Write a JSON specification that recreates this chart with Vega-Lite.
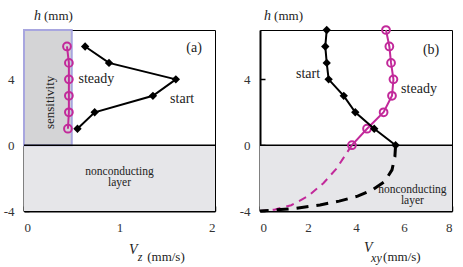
{
  "$schema": "https://vega.github.io/schema/vega-lite/v6.json",
  "autosize": {"type": "pad"},
  "padding": {"left": 2, "top": 8, "right": 2, "bottom": 2},
  "config": {
    "font": "Liberation Serif",
    "view": {"stroke": "black", "strokeWidth": 1},
    "axis": {"domainColor": "black", "domainWidth": 2, "tickColor": "black", "tickWidth": 1.5, "tickSize": -5, "labelFont": "Liberation Serif", "labelFontSize": 13, "labelColor": "#333", "grid": false, "title": null, "labelPadding": 15},
    "text": {"font": "Liberation Serif", "color": "#222"}
  },
  "spacing": 45,
  "bounds": "flush",
  "hconcat": [
    {
      "width": 191,
      "height": 181,
      "layer": [
        {
          "data": {"values": [{}]},
          "mark": {"type": "rect", "fill": "#e6e6e9"},
          "encoding": {
            "x": {"datum": 0, "type": "quantitative", "scale": {"domain": [0, 2], "nice": false, "zero": false}, "axis": {"values": [0, 0.5, 1, 1.5, 2], "labelExpr": "datum.value % 1 == 0 ? '' + datum.value : ''"}},
            "x2": {"datum": 2},
            "y": {"datum": -4, "type": "quantitative", "scale": {"domain": [-4, 7], "nice": false, "zero": false}, "axis": {"values": [-4, -3, -2, -1, 0, 1, 2, 3, 4, 5, 6, 7], "labelExpr": "datum.value % 4 == 0 ? '' + datum.value : ''"}},
            "y2": {"datum": 0}
          }
        },
        {
          "data": {"values": [{}]},
          "mark": {"type": "rect", "fill": "#d4d4d6", "stroke": "#a8a6df", "strokeWidth": 2},
          "encoding": {
            "x": {"datum": 0, "type": "quantitative"},
            "x2": {"datum": 0.5},
            "y": {"datum": 0, "type": "quantitative"},
            "y2": {"datum": 7}
          }
        },
        {
          "data": {"values": [{}]},
          "mark": {"type": "rule", "color": "black", "strokeWidth": 1.5},
          "encoding": {"y": {"datum": 0, "type": "quantitative"}}
        },
        {
          "data": {"values": [
            {"v": 0.46, "h": 1}, {"v": 0.47, "h": 2}, {"v": 0.47, "h": 3},
            {"v": 0.47, "h": 4}, {"v": 0.47, "h": 5}, {"v": 0.45, "h": 6}
          ]},
          "mark": {"type": "line", "color": "#c2299a", "strokeWidth": 2, "point": {"shape": "circle", "size": 60, "filled": false, "stroke": "#c2299a", "strokeWidth": 2}},
          "encoding": {
            "x": {"field": "v", "type": "quantitative"},
            "y": {"field": "h", "type": "quantitative"},
            "order": {"field": "h"}
          }
        },
        {
          "data": {"values": [
            {"v": 0.56, "h": 1}, {"v": 0.74, "h": 2}, {"v": 1.35, "h": 3},
            {"v": 1.59, "h": 4}, {"v": 0.89, "h": 5}, {"v": 0.64, "h": 6}
          ]},
          "mark": {"type": "line", "color": "black", "strokeWidth": 2, "point": {"shape": "diamond", "size": 70, "filled": true, "color": "black"}},
          "encoding": {
            "x": {"field": "v", "type": "quantitative"},
            "y": {"field": "h", "type": "quantitative"},
            "order": {"field": "h"}
          }
        },
        {
          "data": {"values": [
            {"label": "steady", "v": 0.57, "h": 4},
            {"label": "start", "v": 1.53, "h": 2.8},
            {"label": "(a)", "v": 1.7, "h": 5.9}
          ]},
          "mark": {"type": "text", "align": "left", "baseline": "middle", "fontSize": 14, "font": "Liberation Serif"},
          "encoding": {
            "x": {"field": "v", "type": "quantitative"},
            "y": {"field": "h", "type": "quantitative"},
            "text": {"field": "label"}
          }
        },
        {
          "data": {"values": [
            {"label": "nonconducting", "v": 1.0, "h": -1.6},
            {"label": "layer", "v": 1.0, "h": -2.3}
          ]},
          "mark": {"type": "text", "align": "center", "baseline": "middle", "fontSize": 11.5, "font": "Liberation Serif"},
          "encoding": {
            "x": {"field": "v", "type": "quantitative"},
            "y": {"field": "h", "type": "quantitative"},
            "text": {"field": "label"}
          }
        },
        {
          "data": {"values": [{"label": "sensitivity", "v": 0.27, "h": 2.6}]},
          "mark": {"type": "text", "align": "center", "baseline": "middle", "fontSize": 13, "angle": 270, "font": "Liberation Serif"},
          "encoding": {
            "x": {"field": "v", "type": "quantitative"},
            "y": {"field": "h", "type": "quantitative"},
            "text": {"field": "label"}
          }
        },
        {
          "data": {"values": [{}]},
          "mark": {"type": "text", "text": "h", "fontStyle": "italic", "align": "left", "baseline": "middle", "fontSize": 14},
          "encoding": {"x": {"datum": 0.105, "type": "quantitative"}, "y": {"datum": 7.88, "type": "quantitative"}}
        },
        {
          "data": {"values": [{}]},
          "mark": {"type": "text", "text": "(mm)", "align": "left", "baseline": "middle", "fontSize": 13, "dx": 10},
          "encoding": {"x": {"datum": 0.105, "type": "quantitative"}, "y": {"datum": 7.88, "type": "quantitative"}}
        },
        {
          "data": {"values": [{}]},
          "mark": {"type": "text", "text": "V", "fontStyle": "italic", "align": "left", "baseline": "middle", "fontSize": 14},
          "encoding": {"x": {"datum": 1.1, "type": "quantitative"}, "y": {"datum": -6.4, "type": "quantitative"}}
        },
        {
          "data": {"values": [{}]},
          "mark": {"type": "text", "text": "z", "fontStyle": "italic", "align": "left", "baseline": "middle", "fontSize": 12, "dx": 2},
          "encoding": {"x": {"datum": 1.17, "type": "quantitative"}, "y": {"datum": -6.8, "type": "quantitative"}}
        },
        {
          "data": {"values": [{}]},
          "mark": {"type": "text", "text": "(mm/s)", "align": "left", "baseline": "middle", "fontSize": 13},
          "encoding": {"x": {"datum": 1.29, "type": "quantitative"}, "y": {"datum": -6.8, "type": "quantitative"}}
        }
      ]
    },
    {
      "width": 192,
      "height": 181,
      "layer": [
        {
          "data": {"values": [{}]},
          "mark": {"type": "rect", "fill": "#e6e6e9"},
          "encoding": {
            "x": {"datum": 0, "type": "quantitative", "scale": {"domain": [0, 8], "nice": false, "zero": false}, "axis": {"values": [0, 2, 4, 6, 8]}},
            "x2": {"datum": 8},
            "y": {"datum": -4, "type": "quantitative", "scale": {"domain": [-4, 7], "nice": false, "zero": false}, "axis": {"values": [-4, -3, -2, -1, 0, 1, 2, 3, 4, 5, 6, 7], "labelExpr": "datum.value % 4 == 0 ? '' + datum.value : ''"}},
            "y2": {"datum": 0}
          }
        },
        {
          "data": {"values": [{}]},
          "mark": {"type": "rule", "color": "black", "strokeWidth": 1.5},
          "encoding": {"y": {"datum": 0, "type": "quantitative"}}
        },
        {
          "data": {"values": [
            {"v": 3.83, "h": 0}, {"v": 3.6, "h": -0.5}, {"v": 3.2, "h": -1.4}, {"v": 2.65, "h": -2.3},
            {"v": 2.0, "h": -3.1}, {"v": 1.3, "h": -3.65}, {"v": 0.6, "h": -3.92}, {"v": 0, "h": -4}
          ]},
          "mark": {"type": "line", "color": "#c2299a", "strokeWidth": 2, "strokeDash": [8, 6]},
          "encoding": {
            "x": {"field": "v", "type": "quantitative"},
            "y": {"field": "h", "type": "quantitative"},
            "order": {"field": "h", "sort": "descending"}
          }
        },
        {
          "data": {"values": [
            {"v": 5.65, "h": 0}, {"v": 5.62, "h": -0.7}, {"v": 5.5, "h": -1.5}, {"v": 5.2, "h": -2.2},
            {"v": 4.7, "h": -2.7}, {"v": 4.07, "h": -3.1}, {"v": 3.3, "h": -3.4}, {"v": 2.5, "h": -3.63},
            {"v": 1.5, "h": -3.84}, {"v": 0.5, "h": -3.95}, {"v": 0, "h": -4}
          ]},
          "mark": {"type": "line", "color": "black", "strokeWidth": 3, "strokeDash": [12, 8]},
          "encoding": {
            "x": {"field": "v", "type": "quantitative"},
            "y": {"field": "h", "type": "quantitative"},
            "order": {"field": "h", "sort": "descending"}
          }
        },
        {
          "data": {"values": [
            {"v": 3.83, "h": 0}, {"v": 4.46, "h": 1}, {"v": 5.15, "h": 2}, {"v": 5.5, "h": 3},
            {"v": 5.56, "h": 4}, {"v": 5.46, "h": 5}, {"v": 5.39, "h": 6}, {"v": 5.25, "h": 7}
          ]},
          "mark": {"type": "line", "color": "#c2299a", "strokeWidth": 2, "clip": false, "point": {"shape": "circle", "size": 60, "filled": false, "stroke": "#c2299a", "strokeWidth": 2}},
          "encoding": {
            "x": {"field": "v", "type": "quantitative"},
            "y": {"field": "h", "type": "quantitative"},
            "order": {"field": "h"}
          }
        },
        {
          "data": {"values": [
            {"v": 5.65, "h": 0}, {"v": 4.76, "h": 1}, {"v": 3.97, "h": 2}, {"v": 3.49, "h": 3},
            {"v": 2.86, "h": 4}, {"v": 2.78, "h": 5}, {"v": 2.72, "h": 6}, {"v": 2.78, "h": 7}
          ]},
          "mark": {"type": "line", "color": "black", "strokeWidth": 2, "point": {"shape": "diamond", "size": 70, "filled": true, "color": "black"}},
          "encoding": {
            "x": {"field": "v", "type": "quantitative"},
            "y": {"field": "h", "type": "quantitative"},
            "order": {"field": "h"}
          }
        },
        {
          "data": {"values": [
            {"label": "start", "v": 1.5, "h": 4.3},
            {"label": "steady", "v": 5.88, "h": 3.4},
            {"label": "(b)", "v": 6.79, "h": 5.8}
          ]},
          "mark": {"type": "text", "align": "left", "baseline": "middle", "fontSize": 14, "font": "Liberation Serif"},
          "encoding": {
            "x": {"field": "v", "type": "quantitative"},
            "y": {"field": "h", "type": "quantitative"},
            "text": {"field": "label"}
          }
        },
        {
          "data": {"values": [
            {"label": "nonconducting", "v": 6.35, "h": -2.7},
            {"label": "layer", "v": 6.35, "h": -3.4}
          ]},
          "mark": {"type": "text", "align": "center", "baseline": "middle", "fontSize": 11.5, "font": "Liberation Serif"},
          "encoding": {
            "x": {"field": "v", "type": "quantitative"},
            "y": {"field": "h", "type": "quantitative"},
            "text": {"field": "label"}
          }
        },
        {
          "data": {"values": [{}]},
          "mark": {"type": "text", "text": "h", "fontStyle": "italic", "align": "left", "baseline": "middle", "fontSize": 14},
          "encoding": {"x": {"datum": 0.17, "type": "quantitative"}, "y": {"datum": 7.88, "type": "quantitative"}}
        },
        {
          "data": {"values": [{}]},
          "mark": {"type": "text", "text": "(mm)", "align": "left", "baseline": "middle", "fontSize": 13, "dx": 10},
          "encoding": {"x": {"datum": 0.17, "type": "quantitative"}, "y": {"datum": 7.88, "type": "quantitative"}}
        },
        {
          "data": {"values": [{}]},
          "mark": {"type": "text", "text": "V", "fontStyle": "italic", "align": "left", "baseline": "middle", "fontSize": 14},
          "encoding": {"x": {"datum": 4.33, "type": "quantitative"}, "y": {"datum": -6.24, "type": "quantitative"}}
        },
        {
          "data": {"values": [{}]},
          "mark": {"type": "text", "text": "xy", "fontStyle": "italic", "align": "left", "baseline": "middle", "fontSize": 12},
          "encoding": {"x": {"datum": 4.63, "type": "quantitative"}, "y": {"datum": -6.85, "type": "quantitative"}}
        },
        {
          "data": {"values": [{}]},
          "mark": {"type": "text", "text": "(mm/s)", "align": "left", "baseline": "middle", "fontSize": 13},
          "encoding": {"x": {"datum": 5.13, "type": "quantitative"}, "y": {"datum": -6.8, "type": "quantitative"}}
        }
      ]
    }
  ]
}
